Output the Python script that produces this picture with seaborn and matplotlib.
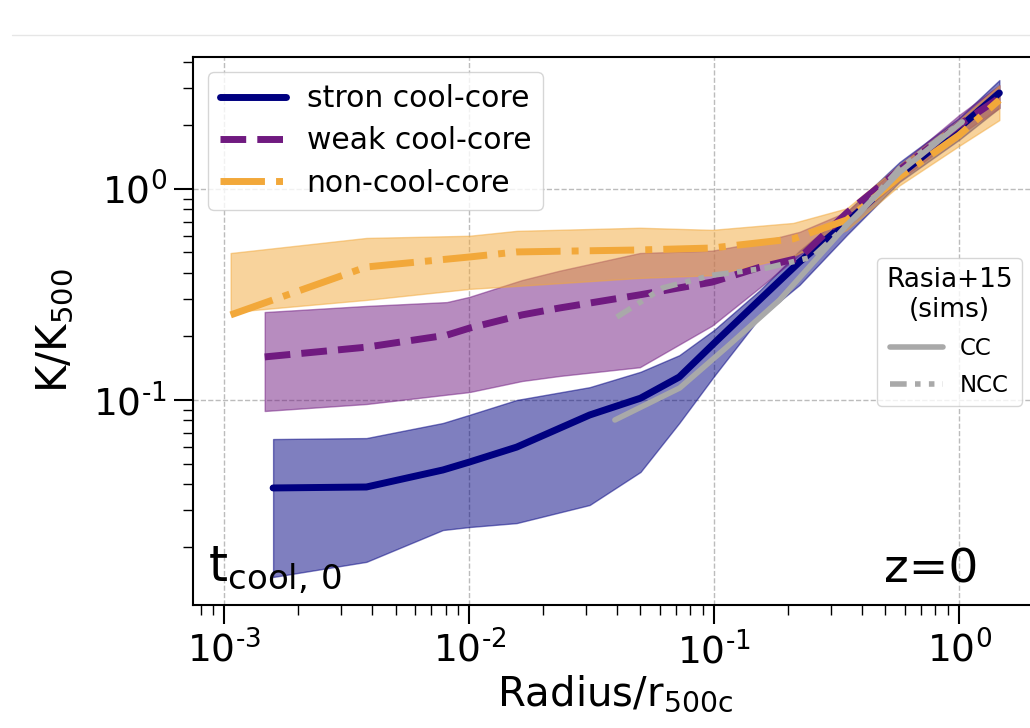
import numpy as np
import pandas as pd
import matplotlib
matplotlib.use("Agg")
import matplotlib.pyplot as plt
import matplotlib.ticker as mticker
import seaborn as sns
from matplotlib.lines import Line2D

# ---------------- data ----------------
strong_x = [0.00158, 0.0038, 0.0078, 0.010, 0.0156, 0.031, 0.050, 0.072, 0.10, 0.153, 0.223, 0.348, 0.571, 1.0, 1.46]
strong_med = [0.0383, 0.0387, 0.0466, 0.0508, 0.0598, 0.0849, 0.102, 0.1285, 0.186, 0.298, 0.451, 0.698, 1.165, 1.95, 2.85]
strong_lo = [0.0145, 0.0171, 0.0242, 0.025, 0.0261, 0.0318, 0.0456, 0.0778, 0.13, 0.245, 0.351, 0.605, 1.08, 1.71, 2.42]
strong_hi = [0.0653, 0.066, 0.0778, 0.085, 0.100, 0.115, 0.136, 0.163, 0.215, 0.33, 0.51, 0.78, 1.34, 2.17, 3.28]

weak_x = [0.00146, 0.0038, 0.0081, 0.0100, 0.0164, 0.0234, 0.0497, 0.098, 0.153, 0.223, 0.348, 0.571, 1.0, 1.46]
weak_med = [0.160, 0.178, 0.203, 0.219, 0.253, 0.273, 0.315, 0.362, 0.425, 0.471, 0.77, 1.23, 2.01, 2.7]
weak_lo = [0.0887, 0.0957, 0.106, 0.109, 0.123, 0.13, 0.143, 0.225, 0.34, 0.487, 0.675, 1.1, 1.8, 2.42]
weak_hi = [0.261, 0.279, 0.291, 0.308, 0.37, 0.41, 0.497, 0.51, 0.56, 0.626, 0.78, 1.3, 2.24, 3.1]

non_x = [0.00106, 0.0038, 0.0100, 0.0156, 0.0497, 0.098, 0.21, 0.348, 0.571, 1.0, 1.46]
non_med = [0.253, 0.427, 0.476, 0.503, 0.514, 0.525, 0.58, 0.713, 1.14, 1.8, 2.64]
non_lo = [0.261, 0.298, 0.336, 0.347, 0.379, 0.39, 0.48, 0.64, 1.04, 1.6, 2.12]
non_hi = [0.497, 0.586, 0.60, 0.633, 0.655, 0.64, 0.69, 0.81, 1.3, 2.12, 3.1]

rasia_cc_x = [0.0393, 0.0723, 0.1125, 0.185, 0.348, 0.571, 1.03]
rasia_cc_y = [0.0804, 0.114, 0.178, 0.298, 0.675, 1.2, 2.08]
rasia_ncc_x = [0.040, 0.0617, 0.098, 0.164, 0.252, 0.393, 0.571, 1.03]
rasia_ncc_y = [0.247, 0.34, 0.39, 0.422, 0.476, 0.77, 1.25, 2.08]

labels = ["stron cool-core", "weak cool-core", "non-cool-core"]
rasia_labels = ["CC", "NCC"]

# ---------------- style ----------------
sns.set_style("ticks", {"axes.edgecolor": "black", "xtick.color": "black",
                        "ytick.color": "black", "text.color": "black",
                        "axes.labelcolor": "black"})
plt.rcParams["font.family"] = ["DejaVu Sans"]
plt.rcParams["mathtext.default"] = "regular"

C_NAVY = "#000080"
C_PURP = "#701a80"
C_ORNG = "#F2A83A"
C_GRAY = "#A9A9A9"

fig = plt.figure(figsize=(10.3, 7.28), dpi=100)
ax = fig.add_axes([0.18738, 0.16896, 0.8194, 0.75275])
ax.set_xscale("log")
ax.set_yscale("log")

# bands
ax.fill_between(strong_x, strong_lo, strong_hi, color=C_NAVY, alpha=0.5, lw=1, zorder=1)
ax.fill_between(weak_x, weak_lo, weak_hi, color=C_PURP, alpha=0.5, lw=1, zorder=1)
ax.fill_between(non_x, non_lo, non_hi, color=C_ORNG, alpha=0.5, lw=1, zorder=1)

# median lines
sns.lineplot(x=strong_x, y=strong_med, ax=ax, color=C_NAVY, lw=5, zorder=3)
sns.lineplot(x=weak_x, y=weak_med, ax=ax, color=C_PURP, lw=5, zorder=3, linestyle="--")
sns.lineplot(x=non_x, y=non_med, ax=ax, color=C_ORNG, lw=5, zorder=3, linestyle="-.")
sns.lineplot(x=rasia_cc_x, y=rasia_cc_y, ax=ax, color=C_GRAY, lw=4, zorder=4)
ncc_dash = (0, (3, 1.5, 1, 1.5, 1, 1.5))
sns.lineplot(x=rasia_ncc_x, y=rasia_ncc_y, ax=ax, color=C_GRAY, lw=4, zorder=4, linestyle=ncc_dash)

ax.set_xlim(7.44e-4, 2.08)
ax.set_ylim(0.01068, 4.22)


def log_fmt(v, pos):
    e = int(round(np.log10(v)))
    if e < 0:
        return r"$10^{\text{-}%d}$" % (-e)
    return r"$10^{%d}$" % e


ax.xaxis.set_major_locator(mticker.LogLocator(base=10))
ax.yaxis.set_major_locator(mticker.LogLocator(base=10))
ax.xaxis.set_major_formatter(mticker.FuncFormatter(log_fmt))
ax.yaxis.set_major_formatter(mticker.FuncFormatter(log_fmt))

ax.grid(True, which="major", ls="--", color="#bcbcbc", lw=1)
for s in ax.spines.values():
    s.set_linewidth(1.5)
ax.tick_params(which="major", direction="out", length=14, width=1.5, labelsize=27, pad=5)
ax.tick_params(which="minor", direction="out", length=7, width=1.0)

ax.set_xlabel(r"Radius/r$_{500c}$", fontsize=29, labelpad=2)
ax.set_ylabel(r"K/K$_{500}$", fontsize=30, labelpad=12)

ax.text(0.018, 0.018, r"t$_{cool,\,0}$", transform=ax.transAxes, fontsize=35,
        ha="left", va="bottom")
ax.text(0.930, 0.022, "z=0", transform=ax.transAxes, fontsize=34,
        ha="right", va="bottom")

# legends
h1 = [Line2D([], [], color=C_NAVY, lw=5),
      Line2D([], [], color=C_PURP, lw=5, ls="--"),
      Line2D([], [], color=C_ORNG, lw=5, ls="-.")]
leg1 = ax.legend(h1, labels, loc="upper left", bbox_to_anchor=(0.0178, 0.9726),
                 borderaxespad=0, fontsize=21.5, handlelength=2.2, handletextpad=0.7,
                 labelspacing=0.45)
ax.add_artist(leg1)
h2 = [Line2D([], [], color=C_GRAY, lw=4),
      Line2D([], [], color=C_GRAY, lw=4, ls=ncc_dash)]
leg2 = ax.legend(h2, rasia_labels, title="Rasia+15\n(sims)", loc="upper left",
                 bbox_to_anchor=(0.8104, 0.6332), borderaxespad=0, fontsize=16.5,
                 title_fontsize=19, handlelength=2.3, handletextpad=0.75,
                 labelspacing=0.6)
leg2.get_title().set_multialignment("center")

fig.add_artist(Line2D([0.012, 1.0], [0.952, 0.952], transform=fig.transFigure,
                      color="#e6e6e6", lw=1))

fig.savefig("out.png", dpi=100)
